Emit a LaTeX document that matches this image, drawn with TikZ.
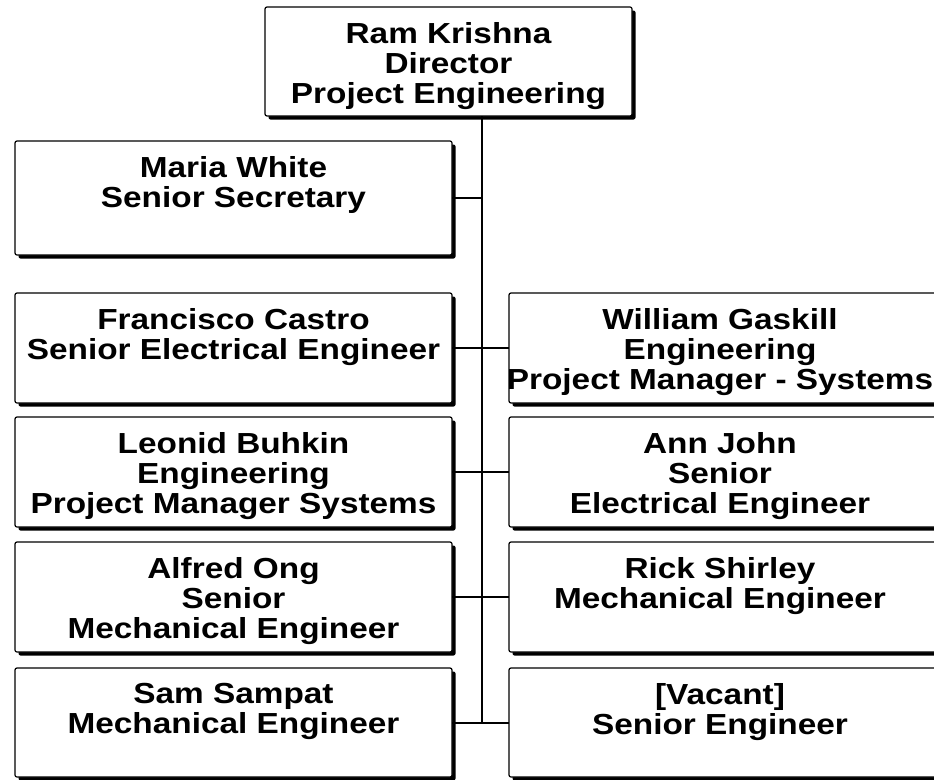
\documentclass[tikz,border=0pt]{standalone}
\usepackage{fontspec}
\setmainfont{Liberation Sans}[FakeStretch=1.15]
\usetikzlibrary{shadows}
\begin{document}
\begin{tikzpicture}[x=1pt,y=-1pt,
  orgbox/.style={draw=black, line width=1.2pt, fill=white, rounded corners=2pt,
    drop shadow={shadow xshift=3.5pt, shadow yshift=-3.5pt, fill=black, opacity=1},
    inner sep=0pt, outer sep=0pt, anchor=north west},
  lbox/.style={orgbox, minimum width=437pt, minimum height=110pt},
  rbox/.style={orgbox, minimum width=440pt, minimum height=110pt},
  orgtext/.style={anchor=north, align=center, inner sep=0pt,
    font=\fontsize{29}{30}\selectfont\bfseries},
  link/.style={line width=2pt}]
\useasboundingbox (0,0) rectangle (934,779);
% boxes
\node[orgbox, minimum width=367pt, minimum height=109pt] (top) at (265,7) {};
\node[lbox, minimum height=114pt] (mw) at (15,141) {};
\node[lbox] (fc) at (15,293) {};
\node[rbox] (wg) at (509,293) {};
\node[lbox] (lb) at (15,417) {};
\node[rbox] (aj) at (509,417) {};
\node[lbox] (ao) at (15,542) {};
\node[rbox] (rs) at (509,542) {};
\node[lbox, minimum height=109pt] (ss) at (15,668) {};
\node[rbox, minimum height=109pt] (va) at (509,668) {};
% texts
\node[orgtext] (topt) at ([yshift=-15pt]top.north) {Ram Krishna\\Director\\Project Engineering};
\node[orgtext] (mwt) at ([yshift=-15pt]mw.north) {Maria White\\Senior Secretary};
\node[orgtext] (fct) at ([yshift=-15pt]fc.north) {Francisco Castro\\Senior Electrical Engineer};
\node[orgtext] (wgt) at ([xshift=-9pt,yshift=-15pt]wg.north) {William Gaskill\\Engineering\\Project Manager - Systems};
\node[orgtext] (lbt) at ([yshift=-15pt]lb.north) {Leonid Buhkin\\Engineering\\Project Manager Systems};
\node[orgtext] (ajt) at ([xshift=-9pt,yshift=-15pt]aj.north) {Ann John\\Senior\\Electrical Engineer};
\node[orgtext] (aot) at ([yshift=-15pt]ao.north) {Alfred Ong\\Senior\\Mechanical Engineer};
\node[orgtext] (rst) at ([xshift=-9pt,yshift=-15pt]rs.north) {Rick Shirley\\Mechanical Engineer};
\node[orgtext] (sst) at ([yshift=-15pt]ss.north) {Sam Sampat\\Mechanical Engineer};
\node[orgtext] (vat) at ([xshift=-9pt,yshift=-15pt]va.north) {[Vacant]\\Senior Engineer};
% connectors
\coordinate (tk) at (482,723);
\draw[link] (top.south -| tk) -- (tk);
\draw[link] (mw.east) -- (mw.east -| tk);
\draw[link] (fc.east) -- (wg.west);
\draw[link] (lb.east) -- (aj.west);
\draw[link] (ao.east) -- (rs.west);
\draw[link] (ss.east) -- (va.west);
\end{tikzpicture}
\end{document}
